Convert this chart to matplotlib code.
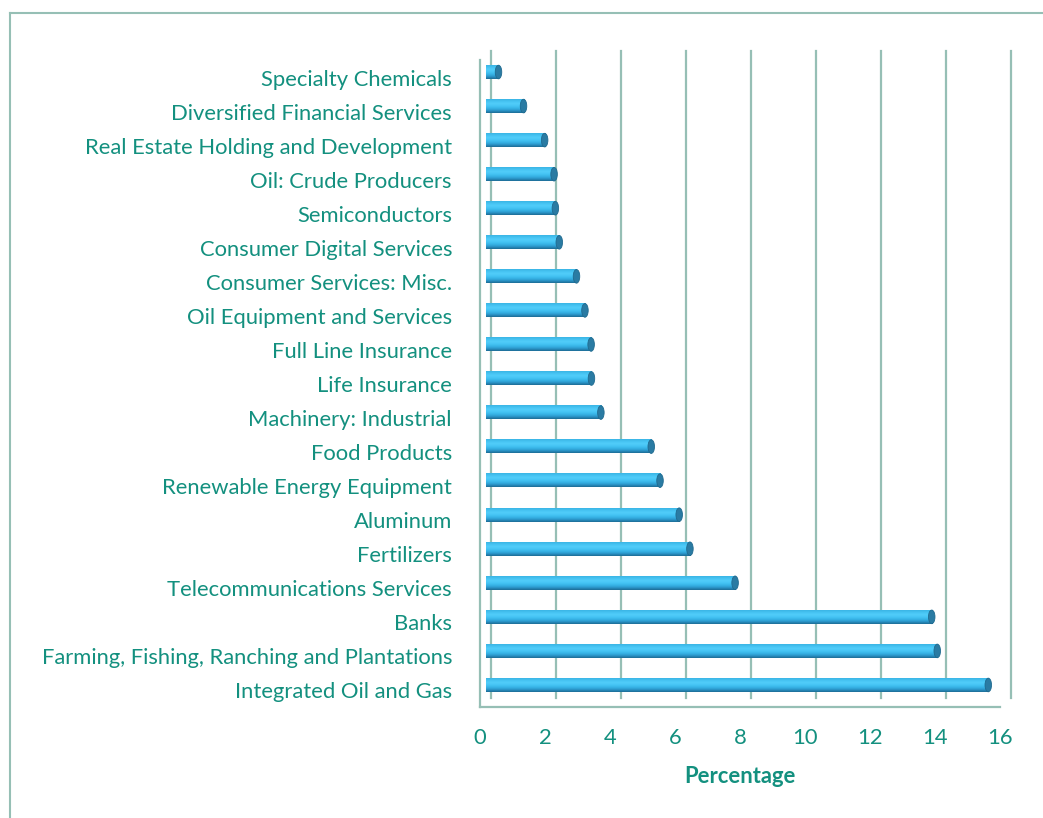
import numpy as np
import matplotlib.pyplot as plt
from matplotlib import transforms
from matplotlib.patches import Ellipse
from matplotlib.colors import LinearSegmentedColormap
from matplotlib.lines import Line2D

# sectors, listed top to bottom as in the chart
categories = [
    "Specialty Chemicals",
    "Diversified Financial Services",
    "Real Estate Holding and Development",
    "Oil: Crude Producers",
    "Semiconductors",
    "Consumer Digital Services",
    "Consumer Services: Misc.",
    "Oil Equipment and Services",
    "Full Line Insurance",
    "Life Insurance",
    "Machinery: Industrial",
    "Food Products",
    "Renewable Energy Equipment",
    "Aluminum",
    "Fertilizers",
    "Telecommunications Services",
    "Banks",
    "Farming, Fishing, Ranching and Plantations",
    "Integrated Oil and Gas",
]
percentages = [0.4, 1.17, 1.82, 2.11, 2.15, 2.27, 2.8, 3.06, 3.25, 3.26,
               3.55, 5.1, 5.37, 5.96, 6.29, 7.68, 13.73, 13.9, 15.47]
x_ticks = [0, 2, 4, 6, 8, 10, 12, 14, 16]

teal = "#13907f"
grid_col = "#96bfb5"
plt.rcParams['font.family'] = ['Lato', 'DejaVu Sans']
fs = 15.8

W, H = 1043, 818
fig = plt.figure(figsize=(W / 100, H / 100), dpi=100)
ax = fig.add_axes([485.5 / W, 1 - 702 / H, 520 / W, (702 - 55) / H])
ax.axis('off')

# front / back plane of the fake 3d box
front = transforms.offset_copy(ax.transData, fig, x=-5.5, y=-4.5, units='dots')
back = transforms.offset_copy(ax.transData, fig, x=5.5, y=4.5, units='dots')

y0, y1 = -0.5, len(categories) - 0.5
lw = 1.6

# back wall gridlines + floor diagonals
for t in x_ticks:
    ax.plot([t, t], [y0, y1], color=grid_col, lw=lw, transform=back, clip_on=False)
    p1 = front.transform((t, y0))
    p2 = back.transform((t, y0))
    ax.add_line(Line2D([p1[0], p2[0]], [p1[1], p2[1]], color=grid_col, lw=lw,
                       transform=None, clip_on=False))

# front left edge, front floor edge, top left diagonal
ax.plot([0, 0], [y0, y1], color=grid_col, lw=lw, transform=front, clip_on=False)
ax.plot([0, 16], [y0, y0], color=grid_col, lw=lw, transform=front, clip_on=False)
p1 = front.transform((0, y1))
p2 = back.transform((0, y1))
ax.add_line(Line2D([p1[0], p2[0]], [p1[1], p2[1]], color=grid_col, lw=lw,
                   transform=None, clip_on=False))

# cylinder bars
cyl = LinearSegmentedColormap.from_list(
    "cyl", ["#1c6a92", "#2a95c9", "#37b3e6", "#44c4f4", "#52cdfa", "#46c4f3", "#3ab4e4"])
grad = np.linspace(0, 1, 64).reshape(-1, 1)
h = 0.4
ypos = np.arange(len(categories))[::-1]

for y, v in zip(ypos, percentages):
    ax.imshow(grad, extent=[0, v, y - h / 2, y + h / 2], aspect='auto', cmap=cyl,
              origin='lower', interpolation='bicubic', zorder=3)
    ax.add_patch(Ellipse((v, y), 0.2, h, facecolor="#2a7ba3", edgecolor="#1f6a8f",
                         lw=0.6, zorder=4))
    ax.add_patch(Ellipse((0, y), 0.12, h, facecolor="#3ab4e4", edgecolor='none',
                         zorder=2))

ax.set_xlim(0, 16)
ax.set_ylim(y0, y1)

# category labels
lab = transforms.offset_copy(ax.transData, fig, x=-33.5, y=-7.5, units='dots')
for y, name in zip(ypos, categories):
    ax.text(0, y, name, transform=lab, ha='right', va='center', fontsize=fs,
            color=teal, clip_on=False)

# x tick labels
tl = transforms.offset_copy(ax.transData, fig, x=-5.5, y=-36.5, units='dots')
for t in x_ticks:
    ax.text(t, y0, str(t), transform=tl, ha='center', va='center', fontsize=fs,
            color=teal, clip_on=False)

xl = transforms.offset_copy(ax.transData, fig, x=-5.5, y=-74.5, units='dots')
ax.text(8, y0, "Percentage", transform=xl, ha='center', va='center', fontsize=fs,
        fontweight='bold', color=teal, clip_on=False)

# outer frame (left and top only, rest is cut off)
fig.add_artist(Line2D([10 / W, 10 / W], [0, 1 - 13 / H], color=grid_col, lw=1.5))
fig.add_artist(Line2D([10 / W, 1], [1 - 13 / H, 1 - 13 / H], color=grid_col, lw=1.5))

fig.savefig("out.png", dpi=100)
